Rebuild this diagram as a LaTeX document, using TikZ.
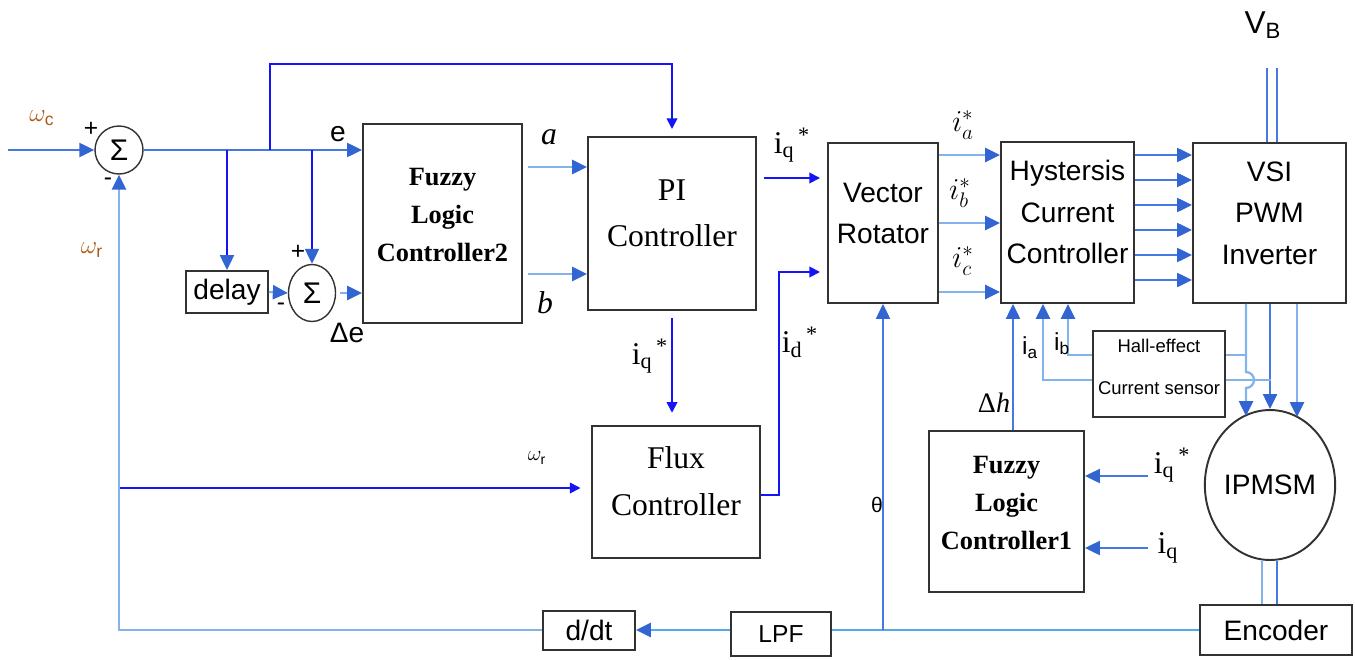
\documentclass[tikz,border=0pt]{standalone}
\usepackage{fontspec}
\setmainfont{Liberation Sans}
\newfontfamily\serif{Liberation Serif}
\usetikzlibrary{arrows.meta,fit,shapes.geometric,calc}
\definecolor{dblue}{RGB}{20,20,245}
\definecolor{mblue}{RGB}{70,120,225}
\definecolor{lblue}{RGB}{130,180,235}
\definecolor{cblue}{RGB}{80,170,235}
\definecolor{hblue}{RGB}{50,100,210}
\definecolor{wlab}{RGB}{170,90,20}
\definecolor{bord}{RGB}{50,50,50}
\tikzset{
 blk/.style={draw=bord, line width=1.1pt, inner sep=0pt, align=center, font=\fontsize{16}{23.6}\selectfont},
 one/.style={draw=bord, line width=1.1pt, inner sep=0pt, font=\fontsize{16}{18}\selectfont},
 fbx/.style={blk, font=\serif\bfseries\fontsize{15}{21.5}\selectfont},
 sbx/.style={blk, font=\serif\fontsize{18}{26.5}\selectfont},
 sumc/.style={circle, draw=bord, line width=0.8pt, minimum size=0.96cm, inner sep=0pt, font=\fontsize{17}{17}\selectfont},
 sume/.style={ellipse, draw=bord, line width=0.8pt, minimum width=0.94cm, minimum height=1.14cm, inner sep=0pt, font=\fontsize{17}{17}\selectfont},
 bigarr/.style={-{Triangle[length=8.5pt,width=8pt,color=hblue]}},
 smallarr/.style={-{Triangle[length=6pt,width=6pt]}},
 dl/.style={draw=dblue, line width=1pt},
 ml/.style={draw=mblue, line width=1.1pt},
 ll/.style={draw=lblue, line width=1.3pt},
 cl/.style={draw=cblue, line width=1.3pt},
 lab/.style={inner sep=0pt, font=\fontsize{16}{18}\selectfont},
}
\begin{document}
\begin{tikzpicture}[x=0.02cm,y=-0.02cm]
\useasboundingbox (0,0) rectangle (1355,659);
% ---------- nodes ----------
\node[sumc] (s1) at (119,150) {Σ};
\node[sume] (s2) at (312,293) {Σ};
\node[one, minimum width=1.64cm, minimum height=0.84cm] (delay) at (227,292) {delay};
\node[fbx, fit={(363,124)(522,323)}] (flc2) {Fuzzy\\Logic\\Controller2};
\node[sbx, fit={(588,137)(756,310)}] (pi) {PI\\Controller};
\node[sbx, fit={(592,426)(760,558)}] (flux) {Flux\\Controller};
\node[blk, fit={(828,143)(938,303)}] (vr) {Vector\\Rotator};
\node[blk, fit={(1001,142)(1134,303)}] (hy) {Hystersis\\Current\\Controller};
\node[blk, fit={(1193,143)(1346,303)}] (vsi) {VSI\\PWM\\Inverter};
\node[blk, font=\fontsize{10.5}{24}\selectfont, fit={(1093,331)(1225,417)}] (hall) {Hall-effect\\Current sensor};
\node[fbx, fit={(929,431)(1084,592)}] (flc1) {Fuzzy\\Logic\\Controller1};
\node[ellipse, draw=bord, line width=1.1pt, minimum width=2.46cm, minimum height=3cm, inner sep=0pt, font=\fontsize{16}{18}\selectfont] (m) at (1270,485) {IPMSM};
\node[one, minimum width=3.04cm, minimum height=1.0cm] (enc) at (1276,630) {Encoder};
\node[one, minimum width=1.84cm, minimum height=0.78cm] (ddt) at (589,630.5) {d/dt};
\node[one, font=\fontsize{14}{16}\selectfont, minimum width=2.0cm, minimum height=0.88cm, text depth=-2pt] (lpf) at (781,634) {LPF};
% ---------- coordinates ----------
\coordinate (in) at (8,150);
\coordinate (b1) at (270,150);
\coordinate (t1) at (270,64);
\coordinate (b2) at (227,150);
\coordinate (b3) at (312,150);
\coordinate (c1) at (779,272);
\coordinate (fb) at (119,488);
\coordinate (vb1) at (1267,68);
\coordinate (vb2) at (1277,68);
\coordinate (mL) at (1246,416);
\coordinate (mR) at (1297,417);
\coordinate (j1) at (1246,355);
\coordinate (j2) at (1271,380);
\coordinate (q1) at (1148,476);
\coordinate (q2) at (1148,548);
% ---------- connectors ----------
\draw[ml, bigarr] (in) -- (s1.west);
\draw[ml, bigarr] (s1.east) -- (s1.east -| flc2.west);
\draw[dl, smallarr, shorten >=4pt] (b1) -- (t1) -| (pi.north);
\draw[dl, bigarr] (b2) -- (delay.north);
\draw[dl, bigarr] (b3) -- (s2.north);
\draw[ll, bigarr] (delay.east) -- (s2.west);
\draw[ll, bigarr, shorten <=2pt] (s2.east) -- (s2.east -| flc2.west);
\draw[ll, bigarr, shorten <=3pt] (flc2.east |- 0,167) -- (pi.west |- 0,167);
\draw[ll, bigarr, shorten <=3pt] (flc2.east |- 0,274) -- (pi.west |- 0,274);
\draw[dl, smallarr, shorten <=4pt, shorten >=4pt] (pi.east |- 0,178) -- (vr.west |- 0,178);
\draw[dl, smallarr, shorten >=4pt] (flux.east |- 0,495) -| (c1) -- (vr.west |- c1);
\draw[dl, smallarr, shorten <=4pt, shorten >=7pt] (pi.south) -- (pi.south |- flux.north);
\draw[dl, smallarr, shorten >=6pt] (fb) -- (flux.west |- fb);
% feedback
\draw[cl] (enc.west |- 0,630) -- (lpf.east |- 0,630);
\draw[cl, bigarr] (lpf.west |- 0,630) -- (ddt.east |- 0,630);
\draw[ll, bigarr] (ddt.west |- 0,630) -- (s1.south |- 0,630) -- (s1.south);
\draw[ml, bigarr] (vr.south |- 0,630) -- (vr.south);
% vector rotator to hysteresis
\foreach \yy in {155,223,292}
  \draw[ll, bigarr] (vr.east |- 0,\yy) -- (hy.west |- 0,\yy);
\foreach \yy in {155,180,205,230,255,280}
  \draw[ml, bigarr] (hy.east |- 0,\yy) -- (vsi.west |- 0,\yy);
% V_B
\draw[ml] (vb1) -- (vb1 |- vsi.north);
\draw[ml] (vb2) -- (vb2 |- vsi.north);
% inverter to motor
\draw[ll, bigarr] (vsi.south -| mL) -- (1246,372) arc[start angle=90,end angle=-90,radius=0.16cm] -- (mL);
\draw[ml, bigarr] (vsi.south -| m.north) -- (m.north);
\draw[ll, bigarr] (vsi.south -| mR) -- (mR);
% hall sensor
\draw[ll] (hall.east |- j1) -- (j1);
\draw[ll] (hall.east |- j2) -- (j2);
\draw[ll, bigarr] (hall.west |- j1) -| (hy.south -| 1068,0);
\draw[ll, bigarr] (hall.west |- j2) -| (hy.south -| 1043,0);
\draw[ml, bigarr] (flc1.north -| 1013,0) -- (hy.south -| 1013,0);
% FLC1 inputs
\draw[ml, bigarr] (q1) -- (flc1.east |- q1);
\draw[ml, bigarr] (q2) -- (flc1.east |- q2);
% motor to encoder
\draw[ll] (m.south -| 1262,0) -- (enc.north -| 1262,0);
\draw[ml] (m.south -| 1277,0) -- (enc.north -| 1277,0);
% ---------- labels ----------
\node[lab, text=wlab, font=\fontsize{14.4}{16}\selectfont] (lwc) at (42,118) {$\omega_{\mathrm{c}}$};
\node[lab, font=\fontsize{14}{16}\selectfont] (lp1) at (91,129) {+};
\node[lab, font=\fontsize{14}{16}\selectfont] (lm1) at (108,182) {-};
\node[lab, text=wlab, font=\fontsize{14.4}{16}\selectfont] (lwr) at (92,250) {$\omega_{\mathrm{r}}$};
\node[lab] (le) at (338,134) {e};
\node[lab, font=\fontsize{14}{16}\selectfont] (lp2) at (298,252) {+};
\node[lab, font=\fontsize{14}{16}\selectfont] (lm2) at (281,307) {-};
\node[lab] (lde) at (347,333) {Δe};
\node[lab, font=\serif\itshape\fontsize{18}{18}\selectfont] (la) at (549,137) {a};
\node[lab, font=\serif\itshape\fontsize{18}{18}\selectfont] (lb) at (545,303) {b};
\node[lab, font=\serif\fontsize{18}{18}\selectfont] (liq1) at (792,145) {i\textsubscript{q}\textsuperscript{\,*}};
\node[lab, font=\serif\fontsize{18}{18}\selectfont] (liq2) at (650,356) {i\textsubscript{q}\textsuperscript{\,*}};
\node[lab, font=\serif\fontsize{18}{18}\selectfont] (lid) at (800,342) {i\textsubscript{d}\textsuperscript{\,*}};
\node[lab, font=\fontsize{12}{14}\selectfont] (lwr2) at (537,458) {$\omega_{\mathrm{r}}$};
\node[lab, font=\fontsize{12}{14}\selectfont] (lth) at (877,505) {θ};
\node[lab, font=\fontsize{17.28}{18}\selectfont] (lia) at (963,125) {$i_a^*$};
\node[lab, font=\fontsize{17.28}{18}\selectfont] (lib) at (960,193) {$i_b^*$};
\node[lab, font=\fontsize{17.28}{18}\selectfont] (lic) at (963,261) {$i_c^*$};
\node[lab, font=\fontsize{18}{20}\selectfont] (lvb) at (1263,25) {V\textsubscript{B}};
\node[lab, font=\fontsize{14}{16}\selectfont] (lia2) at (1030,348) {i\textsubscript{a}};
\node[lab, font=\fontsize{14}{16}\selectfont] (lib2) at (1062,344) {i\textsubscript{b}};
\node[lab, font=\serif\fontsize{16}{18}\selectfont] (ldh) at (994,403) {Δ\textit{h}};
\node[lab, font=\serif\fontsize{18}{18}\selectfont] (liq3) at (1172,465) {i\textsubscript{q}\textsuperscript{\,*}};
\node[lab, font=\serif\fontsize{18}{18}\selectfont] (liq4) at (1168,548) {i\textsubscript{q}};
\end{tikzpicture}
\end{document}
